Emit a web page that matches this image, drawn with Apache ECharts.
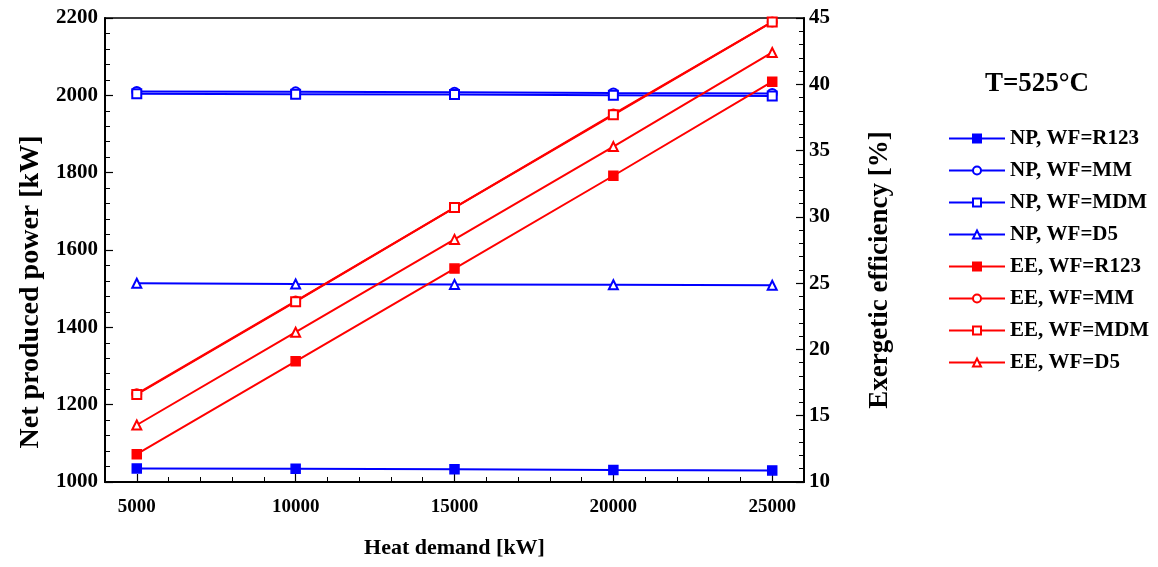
<!DOCTYPE html>
<html>
<head>
<meta charset="utf-8">
<script src="https://cdn.jsdelivr.net/npm/echarts@6/dist/echarts.min.js"></script>
<style>html,body{margin:0;padding:0;background:#fff}#c{width:1158px;height:567px}</style>
</head>
<body>
<div id="c"></div>
<script>
const heatDemand = [5000, 10000, 15000, 20000, 25000];
const xTickLabels = [5000, 10000, 15000, 20000, 25000];
const npR123 = [1035, 1034, 1033, 1031, 1030];
const npMM = [2010, 2009, 2008, 2006, 2005];
const npMDM = [2004, 2003, 2002, 2000, 1998];
const npD5 = [1514, 1512, 1511, 1510, 1509];
const eeR123 = [12.1, 19.1, 26.1, 33.1, 40.2];
const eeMM = [16.65, 23.65, 30.7, 37.75, 44.7];
const eeMDM = [16.6, 23.6, 30.7, 37.7, 44.7];
const eeD5 = [14.3, 21.3, 28.3, 35.3, 42.4];
const seriesNames = ['NP, WF=R123','NP, WF=MM','NP, WF=MDM','NP, WF=D5','EE, WF=R123','EE, WF=MM','EE, WF=MDM','EE, WF=D5'];

const FONT = 'Liberation Serif, Times New Roman, serif';
const BLUE = '#0000ff', RED = '#ff0000';
function pts(v){ return heatDemand.map((x,i)=>[x, v[i]]); }
function mk(name, vals, color, symbol, yIdx){
  return {
    name, type:'line', xAxisIndex:0, yAxisIndex:yIdx, data:pts(vals),
    symbol, symbolSize: 9, showSymbol:true,
    lineStyle:{color, width:2},
    itemStyle:{color, borderColor:color, borderWidth:1.5},
    emphasis:{disabled:true}, animation:false, z: yIdx===1?3:2
  };
}
const plain = v => String(v);
const chart = echarts.init(document.getElementById('c'), null, {renderer:'canvas'});
chart.setOption({
  animation:false,
  backgroundColor:'#fff',
  title:{text:'T=525°C', left:1032, top:66, textAlign:'center',
    textStyle:{fontFamily:FONT, fontWeight:'bold', fontSize:27, color:'#000'}},
  legend:{
    orient:'vertical', left:943, top:123, itemWidth:56, itemHeight:10, itemGap:11,
    data:seriesNames,
    textStyle:{fontFamily:FONT, fontWeight:'bold', fontSize:21, color:'#000', lineHeight:18},
    selectedMode:false
  },
  grid:{left:105, right:354, top:18, bottom:85, show:true, borderColor:'#000', borderWidth:1.5, containLabel:false},
  xAxis:[{
    type:'value', min:4000, max:26000, interval:1000, position:'bottom',
    name:'Heat demand [kW]', nameLocation:'middle', nameGap:55,
    nameTextStyle:{fontFamily:FONT, fontWeight:'bold', fontSize:22, color:'#000'},
    axisLine:{show:true, onZero:false, lineStyle:{color:'#000', width:2}},
    axisTick:{show:true, inside:true, length:8, customValues:xTickLabels, lineStyle:{color:'#000', width:1.2}},
    axisLabel:{show:true, margin:16, customValues:xTickLabels, formatter:plain, fontFamily:FONT, fontWeight:'bold', fontSize:19, color:'#000'},
    splitLine:{show:false}
  },{
    type:'value', min:4000, max:26000, interval:1000, position:'bottom',
    axisLine:{show:false}, axisLabel:{show:false}, splitLine:{show:false},
    axisTick:{show:true, inside:true, length:5, lineStyle:{color:'#000', width:1}}
  }],
  yAxis:[{
    type:'value', min:1000, max:2200, interval:200, position:'left',
    name:'Net produced power [kW]', nameLocation:'middle', nameGap:55,
    nameTextStyle:{fontFamily:FONT, fontWeight:'bold', fontSize:28, color:'#000', padding:[0,84,0,0]},
    axisLine:{show:true, lineStyle:{color:'#000', width:2}},
    axisTick:{show:true, inside:true, length:8, lineStyle:{color:'#000', width:1.2}},
    axisLabel:{margin:7, formatter:plain, fontFamily:FONT, fontWeight:'bold', fontSize:21, color:'#000'},
    splitLine:{show:false}
  },{
    type:'value', min:10, max:45, interval:5, position:'right',
    name:'Exergetic efficiency [%]', nameLocation:'middle', nameGap:63, nameRotate:90,
    nameTextStyle:{fontFamily:FONT, fontWeight:'bold', fontSize:27, color:'#000', padding:[0,40,0,0]},
    axisLine:{show:true, lineStyle:{color:'#000', width:2}},
    axisTick:{show:true, inside:true, length:8, lineStyle:{color:'#000', width:1.2}},
    axisLabel:{margin:5, formatter:plain, fontFamily:FONT, fontWeight:'bold', fontSize:21, color:'#000'},
    splitLine:{show:false}
  },{
    type:'value', min:1000, max:2200, interval:40, position:'left',
    axisLine:{show:false}, axisLabel:{show:false}, splitLine:{show:false},
    axisTick:{show:true, inside:true, length:5, lineStyle:{color:'#000', width:1}}
  },{
    type:'value', min:10, max:45, interval:1, position:'right',
    axisLine:{show:false}, axisLabel:{show:false}, splitLine:{show:false},
    axisTick:{show:true, inside:true, length:5, lineStyle:{color:'#000', width:1}}
  }],
  series:[
    mk(seriesNames[0], npR123, BLUE, 'rect', 0),
    mk(seriesNames[1], npMM, BLUE, 'emptyCircle', 0),
    mk(seriesNames[2], npMDM, BLUE, 'emptyRect', 0),
    mk(seriesNames[3], npD5, BLUE, 'emptyTriangle', 0),
    mk(seriesNames[4], eeR123, RED, 'rect', 1),
    mk(seriesNames[5], eeMM, RED, 'emptyCircle', 1),
    mk(seriesNames[6], eeMDM, RED, 'emptyRect', 1),
    mk(seriesNames[7], eeD5, RED, 'emptyTriangle', 1)
  ]
});
</script>
</body>
</html>
